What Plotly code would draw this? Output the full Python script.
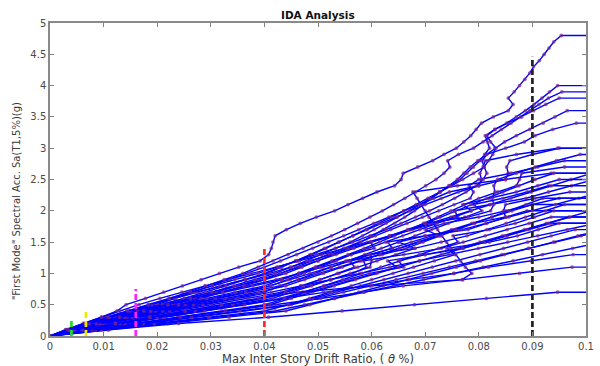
import plotly.graph_objects as go

# ---------------- data ----------------
SA_LEVELS = [0.0, 0.1, 0.2, 0.3, 0.4, 0.5, 0.6, 0.7, 0.8, 0.9,
             1.0, 1.1, 1.2, 1.3, 1.4, 1.5, 1.6, 1.7, 1.8, 1.9,
             2.0, 2.1, 2.2, 2.3, 2.4, 2.5, 2.6, 2.7, 2.8, 2.9,
             3.0, 3.1, 3.2, 3.3, 3.4, 3.5, 3.6, 3.7, 3.8, 3.9,
             4.0, 4.1, 4.2, 4.3, 4.4, 4.5, 4.6, 4.7, 4.8]

# max inter-storey drift for each record at successive Sa levels
gm01 = [0, .0033, .0066, .0096, .0125, .0142, .0178, .0212, .0247, .0282, .0316, .0352, .0392, .0408, .0413, .0416, .0420, .0441, .0467, .0497, .0531, .0556, .0583, .0610, .0643, .0655, .0659, .0686, .0714, .0735, .0758, .0772, .0785, .0795, .0805, .0827, .0855, .0864, .0855, .0866, .0876, .0886, .0895, .0902, .0913, .0922, .0931, .0940, .0954]
gm02 = [0, .0036, .0072, .0108, .0145, .0183, .0222, .0262, .0303, .0345, .0388, .0425, .0462, .0498, .0532, .0565, .0597, .0627, .0655, .0682, .0708, .0732, .0755, .0776, .0795, .0808, .0815, .0810, .0818, .0826, .0832, .0822, .0815, .0830, .0852, .0870, .0887, .0903, .0918, .0932, .0947]
gm03 = [0, .0037, .0074, .0111, .0150, .0190, .0223, .0256, .0290, .0325, .0360, .0388, .0416, .0444, .0472, .0500, .0525, .0550, .0574, .0597, .0620, .0641, .0662, .0682, .0701, .0720, .0735, .0746, .0742, .0762, .0790, .0808, .0825, .0842, .0860, .0878, .0895, .0912, .0930, .0955]
gm04 = [0, .0042, .0086, .0130, .0175, .0220, .0262, .0302, .0343, .0382, .0420, .0450, .0478, .0506, .0533, .0560, .0583, .0605, .0627, .0648, .0670, .0690, .0708, .0727, .0746, .0765, .0778, .0790, .0802, .0811, .0820, .0816, .0812, .0830, .0855, .0880, .0902, .0925, .0950]
gm05 = [0, .0046, .0093, .0140, .0188, .0240, .0282, .0322, .0362, .0401, .0440, .0470, .0500, .0528, .0555, .0580, .0601, .0622, .0643, .0662, .0680, .0696, .0712, .0728, .0744, .0760, .0772, .0784, .0798, .0814, .0830, .0848, .0870, .0895, .0920, .0942, .0965]
gm06 = [0, .0040, .0080, .0121, .0163, .0210, .0250, .0290, .0328, .0365, .0400, .0430, .0460, .0488, .0515, .0540, .0565, .0590, .0614, .0637, .0660, .0683, .0705, .0727, .0749, .0770, .0790, .0810, .0806, .0815, .0850, .0885, .0905, .0938, .0982]
gm07 = [0, .0038, .0076, .0115, .0156, .0200, .0234, .0268, .0302, .0336, .0370, .0400, .0430, .0460, .0490, .0520, .0548, .0576, .0604, .0632, .0660, .0688, .0716, .0745, .0800, .0805, .0802, .0808, .0812, .0870, .0947]
gm08 = [0, .0044, .0089, .0134, .0180, .0230, .0270, .0310, .0350, .0390, .0430, .0465, .0500, .0534, .0567, .0600, .0633, .0667, .0700, .0780, .0822, .0828, .0825, .0830, .0828, .0835, .0870, .0905, .0945, .0989]
gm09 = [0, .0041, .0087, .0136, .0187, .0238, .0292, .0345, .0400, .0432, .0464, .0495, .0526, .0556, .0586, .0615, .0643, .0670, .0697, .0723, .0748, .0772, .0800, .0835, .0870, .0876, .0880, .0960]
gm10 = [0, .0043, .0092, .0144, .0197, .0252, .0308, .0365, .0412, .0443, .0474, .0504, .0534, .0562, .0605, .0598, .0640, .0672, .0700, .0728, .0756, .0785, .0815, .0845, .0875, .0905, .0940]
gm11 = [0, .0035, .0077, .0122, .0170, .0220, .0272, .0324, .0378, .0432, .0465, .0497, .0530, .0562, .0594, .0626, .0658, .0690, .0722, .0754, .0786, .0770, .0820, .0870, .0910, .0950]
gm12 = [0, .0060, .0122, .0186, .0252, .0320, .0390, .0462, .0600, .0769, .0787, .0775, .0766, .0757, .0748, .0740, .0731, .0723, .0715, .0707, .0700, .0692, .0685, .0677, .0760, .0850, .0935]
gm13 = [0, .0046, .0098, .0153, .0210, .0268, .0327, .0388, .0440, .0475, .0510, .0545, .0580, .0616, .0652, .0688, .0722, .0756, .0790, .0850, .0846, .0850, .0905, .0970]
gm14 = [0, .0059, .0122, .0187, .0252, .0319, .0386, .0440, .0472, .0504, .0536, .0568, .0560, .0620, .0664, .0696, .0728, .0760, .0792, .0824, .0856, .0888, .0920]
gm15 = [0, .0063, .0131, .0200, .0271, .0342, .0415, .0451, .0488, .0524, .0560, .0597, .0600, .0598, .0680, .0730, .0778, .0815, .0851, .0887, .0924, .0960]
gm16 = [0, .0068, .0140, .0213, .0288, .0363, .0438, .0474, .0510, .0546, .0582, .0617, .0653, .0689, .0725, .0761, .0752, .0820, .0868, .0904, .0940]
gm17 = [0, .0078, .0160, .0243, .0327, .0410, .0450, .0490, .0530, .0570, .0610, .0650, .0690, .0730, .0770, .0810, .0850, .0890, .0930, .0970]
gm18 = [0, .0085, .0174, .0264, .0355, .0445, .0484, .0523, .0562, .0600, .0640, .0678, .0717, .0756, .0740, .0820, .0872, .0911, .0950]
gm19 = [0, .0096, .0195, .0296, .0400, .0445, .0490, .0534, .0579, .0623, .0668, .0713, .0757, .0802, .0846, .0891, .0935, .0980]
gm20 = [0, .0049, .0104, .0163, .0223, .0285, .0349, .0413, .0468, .0523, .0578, .0634, .0689, .0744, .0799, .0854, .0910, .0965, .1020]
gm21 = [0, .0029, .0064, .0103, .0143, .0185, .0227, .0272, .0317, .0363, .0410, .0448, .0485, .0522, .0560, .0598, .0635, .0672, .0710, .0748, .0785, .0822, .0860, .0898, .0935, .0972, .1010]
gm22 = [0, .0068, .0138, .0210, .0285, .0360, .0435, .0510, .0590, .0671, .0754, .0818, .0898, .0976]
gm23 = [0, .0080, .0162, .0246, .0332, .0420, .0505, .0585, .0659, .0770, .0876, .0974]
gm24 = [0, .0110, .0240, .0408, .0545, .0680, .0814, .0947]
gm25 = [0, .0036, .0077, .0121, .0167, .0215, .0265, .0316, .0369, .0422, .0465, .0509, .0552, .0596, .0639, .0630, .0700, .0769, .0813, .0856, .0900, .0943, .0987, .1030]
gm26 = [0, .0048, .0101, .0158, .0217, .0277, .0339, .0400, .0431, .0462, .0494, .0525, .0556, .0587, .0618, .0650, .0681, .0712, .0743, .0774, .0806, .0790, .0845, .0890, .0930]
gm27 = [0, .0108, .0220, .0334, .0440, .0485, .0531, .0576, .0622, .0667, .0712, .0758, .0803, .0848, .0894, .0939, .0985, .1030]
gm28 = [0, .0030, .0062, .0096, .0130, .0166, .0205, .0246, .0289, .0332, .0377, .0423, .0465, .0507, .0550, .0592, .0634, .0677, .0719, .0761, .0755, .0820, .0888, .0930, .0973, .1015]
gm29 = [0, .0062, .0128, .0195, .0263, .0331, .0400, .0441, .0482, .0524, .0565, .0590, .0585, .0660, .0730, .0771, .0812, .0853, .0894, .0935]
gm30 = [0, .0042, .0089, .0140, .0192, .0245, .0300, .0356, .0410, .0448, .0485, .0523, .0561, .0598, .0636, .0674, .0712, .0749, .0787, .0825, .0862, .0900]
gm31 = [0, .0066, .0136, .0208, .0282, .0357, .0430, .0471, .0513, .0554, .0596, .0660, .0650, .0700, .0761, .0802, .0844, .0885, .0926, .0968, .1010]
gm32 = [0, .0088, .0178, .0270, .0363, .0450, .0499, .0548, .0597, .0646, .0696, .0745, .0794, .0843, .0892, .0942, .0991, .1040]
gm33 = [0, .0052, .0110, .0171, .0235, .0301, .0368, .0432, .0468, .0503, .0539, .0574, .0610, .0645, .0681, .0650, .0700, .0780, .0815, .0850, .0890]
gm34 = [0, .0033, .0071, .0112, .0156, .0203, .0251, .0300, .0350, .0400, .0430, .0459, .0489, .0518, .0548, .0577, .0607, .0636, .0666, .0695, .0725, .0754, .0784, .0790, .0782, .0800, .0860, .0910, .0960]
gm35 = [0, .0100, .0205, .0312, .0420, .0475, .0531, .0586, .0642, .0697, .0753, .0808, .0864, .0919, .0975, .1030]
gm36 = [0, .0045, .0094, .0147, .0201, .0257, .0314, .0372, .0428, .0465, .0502, .0540, .0577, .0614, .0652, .0689, .0726, .0700, .0735, .0800, .0850, .0900, .0950]
gm37 = [0, .0077, .0157, .0238, .0320, .0400, .0441, .0482, .0524, .0565, .0606, .0647, .0630, .0700, .0771, .0812, .0853, .0894, .0935]
gm38 = [0, .0034, .0070, .0108, .0148, .0190, .0233, .0277, .0322, .0365, .0405, .0432, .0458, .0485, .0512, .0538, .0565, .0592, .0618, .0645, .0672, .0700, .0730, .0762, .0800, .0850, .0855, .0852, .0858, .0900, .0950]

records = [gm38, gm37, gm36, gm35, gm34, gm33, gm32, gm31,
           gm30, gm29, gm28, gm27, gm26, gm25, gm24, gm23, gm22, gm21,
           gm20, gm19, gm18, gm17, gm16, gm15, gm14, gm13, gm12, gm11,
           gm10, gm09, gm08, gm07, gm06, gm05, gm04, gm03, gm02, gm01]

# performance-limit markers (drift, Sa extent, colour)
limit_drift = [0.004, 0.0067, 0.016, 0.04, 0.09]
limit_top = [0.27, 0.40, 0.75, 1.40, 4.46]
limit_color = ["#22dd22", "#f2e600", "#ff22ff", "#ff2a2a", "#222222"]

x_tickvals = [0, 0.01, 0.02, 0.03, 0.04, 0.05, 0.06, 0.07, 0.08, 0.09, 0.1]
x_ticktext = ["0", "0.01", "0.02", "0.03", "0.04", "0.05", "0.06", "0.07", "0.08", "0.09", "0.1"]
y_tickvals = [0, 0.5, 1, 1.5, 2, 2.5, 3, 3.5, 4, 4.5, 5]
y_ticktext = ["0", "0.5", "1", "1.5", "2", "2.5", "3", "3.5", "4", "4.5", "5"]

X_MAX = 0.1
Y_MAX = 5

# ---------------- figure ----------------
fig = go.Figure()

for drift in records:
    n = len(drift)
    sa = SA_LEVELS[:n]
    xs = list(drift) + [max(drift[-1], X_MAX)]
    ys = list(sa) + [sa[-1]]
    fig.add_trace(go.Scatter(
        x=xs, y=ys, mode="lines+markers",
        line=dict(color="#0000ff", width=1.4),
        marker=dict(color="#7a2a90", size=[3.8] * n + [0], line=dict(width=0)),
        hoverinfo="skip", showlegend=False))

for xd, top, col in zip(limit_drift, limit_top, limit_color):
    fig.add_trace(go.Scatter(
        x=[xd, xd], y=[0, top], mode="lines",
        line=dict(color=col, width=2.7, dash="6px,3px"),
        hoverinfo="skip", showlegend=False))

axis_font = dict(family="DejaVu Sans", size=10, color="#4a4a4a")
fig.update_xaxes(range=[0, X_MAX], tickvals=x_tickvals, ticktext=x_ticktext,
                 ticks="inside", ticklen=4, tickwidth=1, tickcolor="#808080",
                 showline=True, linecolor="#8a8a8a", linewidth=1.5, mirror="allticks",
                 showgrid=False, zeroline=False, tickfont=axis_font)
fig.update_yaxes(range=[0, Y_MAX], tickvals=y_tickvals, ticktext=y_ticktext,
                 ticks="inside", ticklen=4, tickwidth=1, tickcolor="#808080",
                 showline=True, linecolor="#8a8a8a", linewidth=1.5, mirror="allticks",
                 showgrid=False, zeroline=False, tickfont=axis_font)

fig.update_layout(
    width=600, height=366,
    margin=dict(l=50, r=6, t=23, b=30, pad=0),
    paper_bgcolor="white", plot_bgcolor="white",
    showlegend=False,
    annotations=[
        dict(text="<b>IDA Analysis</b>", x=0.5, y=1.026, xref="paper", yref="paper",
             xanchor="center", yanchor="middle", showarrow=False,
             font=dict(family="DejaVu Sans", size=10.5, color="#111111")),
        dict(text="Max Inter Story Drift Ratio, ( <i>θ</i> %)", x=0.5, y=-0.074,
             xref="paper", yref="paper", xanchor="center", yanchor="middle",
             showarrow=False, font=dict(family="DejaVu Sans", size=11.5, color="#3a3a3a")),
        dict(text="\"First Mode\" Spectral Acc. Sa(T1,5%)(g)", x=-0.063, y=0.431,
             xref="paper", yref="paper", xanchor="center", yanchor="middle",
             textangle=-90, showarrow=False,
             font=dict(family="DejaVu Sans", size=10, color="#3a3a3a")),
    ],
)

fig.write_html("out.html")
